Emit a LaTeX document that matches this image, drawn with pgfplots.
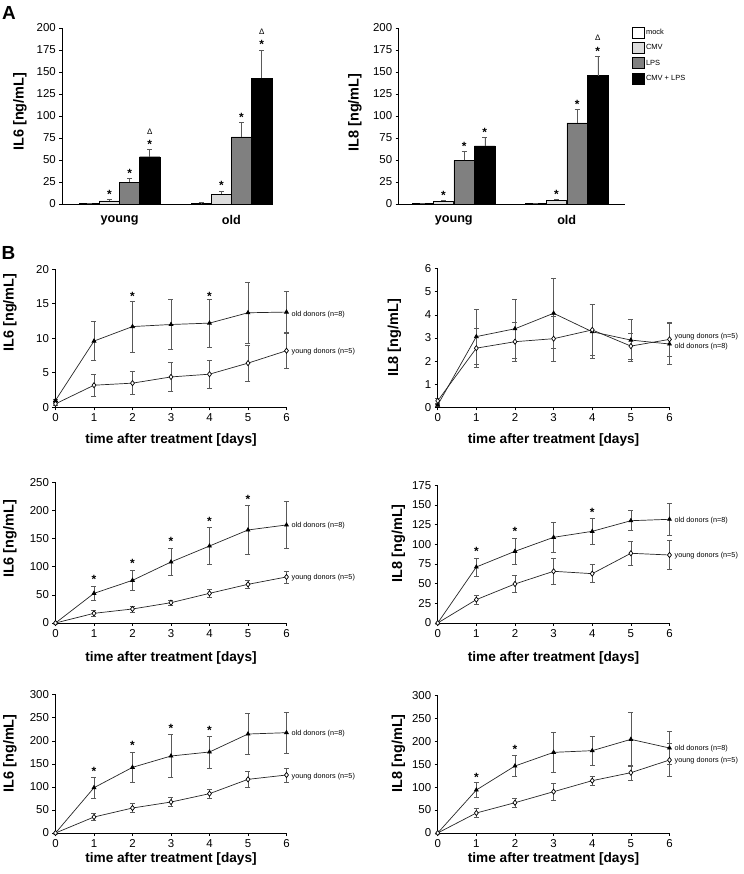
\documentclass[border=0pt]{standalone}
\usepackage{fontspec}
\setmainfont{Liberation Sans}
\usepackage{pgfplots}
\pgfplotsset{compat=1.18}

\definecolor{errgray}{HTML}{5A5A5A}
\definecolor{cmvgray}{HTML}{DCDCDC}
\definecolor{lpsgray}{HTML}{808080}

\pgfplotsset{
  base/.style={scale only axis, clip=false, enlargelimits=false,
    axis x line*=bottom, axis y line*=left,
    axis line style={-, line width=0.6bp, black},
    every tick/.style={black, line width=0.6bp},
    tick align=outside, major tick length=3bp,
    tick label style={font=\fontsize{11.5}{12}\selectfont},
    /pgf/number format/assume math mode=true,
    every axis y label/.style={rotate=90, anchor=center, font=\bfseries\fontsize{14.5}{16}\selectfont},
    every axis x label/.style={anchor=center, font=\bfseries\fontsize{13.7}{15}\selectfont},
    ymin=0},
  ylab/.style 2 args={every axis y label/.append style={at={([xshift=-#1]axis description cs:0,#2)}}},
  xlab/.style={every axis x label/.append style={at={([yshift=-#1]axis description cs:0.5,0)}}},
  barA/.style={base, ybar, height=176bp, ymax=200, ytick={0,25,...,200},
    xtick={0,1}, xticklabels={young,old}, x tick style={draw=none},
    xticklabel style={font=\bfseries\fontsize{12.7}{14}\selectfont, yshift=-5bp}},
  barerr/.style={error bars/.cd, y dir=plus, y explicit,
    error bar style={errgray, line width=0.6bp},
    error mark options={rotate=90, errgray, mark size=2.5bp, line width=0.6bp}},
  lineplot/.style={base, xmin=0, xmax=6, xtick={0,...,6},
    xlabel={time after treatment [days]}},
  old/.style={black!85, line width=0.7bp, mark=triangle*, mark size=2.2bp,
    mark options={solid, fill=black, draw=black},
    error bars/.cd, y dir=both, y explicit,
    error bar style={errgray, line width=0.6bp},
    error mark options={rotate=90, errgray, mark size=2.5bp, line width=0.6bp}},
  young/.style={black!85, line width=0.7bp, mark=diamond*, mark size=2.6bp,
    mark options={solid, fill=white, draw=black},
    error bars/.cd, y dir=both, y explicit,
    error bar style={errgray, line width=0.6bp},
    error mark options={rotate=90, errgray, mark size=2.5bp, line width=0.6bp}},
}
\tikzset{
  star/.style={inner sep=0pt, anchor=center, yshift=-2.5bp, font=\bfseries\fontsize{12}{12}\selectfont},
  delta/.style={inner sep=0pt, anchor=center, font=\fontsize{8}{8}\selectfont},
  donor/.style={inner sep=0pt, anchor=west, xshift=5bp, font=\fontsize{7.3}{8}\selectfont},
}

\begin{document}
\begin{tikzpicture}
\useasboundingbox (0,0) rectangle (744bp,874bp);

\node[font=\bfseries\fontsize{19}{20}\selectfont] at (9bp,861.5bp) {A};
\node[font=\bfseries\fontsize{19}{20}\selectfont] at (8.5bp,621.5bp) {B};

% ---------- A: IL6 ----------
\begin{axis}[barA, at={(62.3bp,670bp)}, anchor=south west, width=210.7bp,
  xmin=-0.511, xmax=1.371, ylabel={IL6 [ng/mL]}, ylab={42.3bp}{0.524}]
\addplot[fill=white, draw=black, bar width=0.18, bar shift=-0.27, barerr] table[x=x,y=y,y error=e] {
x y e
0 0.5 0.2
1 1.0 0.5
};
\addplot[fill=cmvgray, draw=black, bar width=0.18, bar shift=-0.09, barerr] table[x=x,y=y,y error=e] {
x y e
0 3.7 1.1
1 11.3 3.3
};
\addplot[fill=lpsgray, draw=black, bar width=0.18, bar shift=0.09, barerr] table[x=x,y=y,y error=e] {
x y e
0 24.8 4.1
1 76.2 16.1
};
\addplot[fill=black, draw=black, bar width=0.18, bar shift=0.27, barerr] table[x=x,y=y,y error=e] {
x y e
0 53.7 8.2
1 143 31.5
};
\node[star] at (axis cs:-0.09,13.5) {*};
\node[star] at (axis cs:0.09,37.5) {*};
\node[star] at (axis cs:0.27,70.5) {*};
\node[delta] at (axis cs:0.27,82.5) {Δ};
\node[star] at (axis cs:0.91,23.6) {*};
\node[star] at (axis cs:1.09,101.3) {*};
\node[star] at (axis cs:1.27,184.2) {*};
\node[delta] at (axis cs:1.27,195.5) {Δ};
\end{axis}

% ---------- A: IL8 ----------
\begin{axis}[barA, at={(398.7bp,670bp)}, anchor=south west, width=226bp,
  xmin=-0.487, xmax=1.513, ylabel={IL8 [ng/mL]}, ylab={43.7bp}{0.52},
  legend style={at={(1.032,1.0085)}, anchor=north west, draw=none, fill=none,
    font=\fontsize{7.5}{9}\selectfont, row sep=4bp, inner sep=0pt,
    nodes={inner sep=1.5bp}},
  legend cell align=left,
  legend image code/.code={\draw[#1, draw=black] (0bp,-5.5bp) rectangle (12bp,5.5bp);}]
\addplot[fill=white, draw=black, bar width=0.183, bar shift=-0.275, barerr] table[x=x,y=y,y error=e] {
x y e
0 0.8 0.2
1 0.5 0.2
};
\addlegendentry{mock}
\addplot[fill=cmvgray, draw=black, bar width=0.183, bar shift=-0.092, barerr] table[x=x,y=y,y error=e] {
x y e
0 3.0 1.1
1 4.5 1.1
};
\addlegendentry{CMV}
\addplot[fill=lpsgray, draw=black, bar width=0.183, bar shift=0.092, barerr] table[x=x,y=y,y error=e] {
x y e
0 49.5 10.2
1 92.3 15
};
\addlegendentry{LPS}
\addplot[fill=black, draw=black, bar width=0.183, bar shift=0.275, barerr] table[x=x,y=y,y error=e] {
x y e
0 66 9.4
1 146 22
};
\addlegendentry{CMV + LPS}
\node[star] at (axis cs:-0.092,13.1) {*};
\node[star] at (axis cs:0.092,67.9) {*};
\node[star] at (axis cs:0.275,84.4) {*};
\node[star] at (axis cs:0.908,13.9) {*};
\node[star] at (axis cs:1.092,116.3) {*};
\node[star] at (axis cs:1.275,176.4) {*};
\node[delta] at (axis cs:1.275,188.7) {Δ};
\end{axis}

% ---------- B row 1 ----------
\begin{axis}[lineplot, at={(55.5bp,466.7bp)}, anchor=south west, width=231bp, height=138bp,
  ymax=20, ytick={0,5,...,20}, ylabel={IL6 [ng/mL]}, ylab={45.5bp}{0.687}, xlab={32.7bp}]
\addplot[old] table[x=x,y=y,y error=e] {
x y e
0 1.0 0.2
1 9.6 2.8
2 11.7 3.7
3 12.0 3.6
4 12.2 3.5
5 13.7 4.4
6 13.8 3.0
};
\addplot[young] table[x=x,y=y,y error=e] {
x y e
0 0.5 0.2
1 3.2 1.65
2 3.5 1.65
3 4.4 2.1
4 4.8 2.0
5 6.4 2.6
6 8.2 2.5
};
\node[star] at (axis cs:2,16.5) {*};
\node[star] at (axis cs:4,16.5) {*};
\node[donor] at (axis cs:6,13.5) {old donors (n=8)};
\node[donor] at (axis cs:6,8.0) {young donors (n=5)};
\end{axis}

\begin{axis}[lineplot, at={(437.7bp,466.7bp)}, anchor=south west, width=231.8bp, height=138.6bp,
  ymax=6, ytick={0,1,...,6}, ylabel={IL8 [ng/mL]}, ylab={43.2bp}{0.5}, xlab={32.7bp}]
\addplot[old] table[x=x,y=y,y error=e] {
x y e
0 0.1 0.05
1 3.06 1.18
2 3.4 1.27
3 4.07 1.52
4 3.27 1.17
5 2.91 0.9
6 2.74 0.9
};
\addplot[young] table[x=x,y=y,y error=e] {
x y e
0 0.28 0.1
1 2.56 0.85
2 2.84 0.85
3 2.97 0.97
4 3.35 1.1
5 2.65 0.57
6 2.94 0.73
};
\node[donor] at (axis cs:6,3.04) {young donors (n=5)};
\node[donor] at (axis cs:6,2.61) {old donors (n=8)};
\end{axis}

% ---------- B row 2 ----------
\begin{axis}[lineplot, at={(55.5bp,251bp)}, anchor=south west, width=231bp, height=140.7bp,
  ymax=250, ytick={0,50,...,250}, ylabel={IL6 [ng/mL]}, ylab={45.5bp}{0.597}, xlab={35bp}]
\addplot[old] table[x=x,y=y,y error=e] {
x y e
0 0 0
1 52.7 13
2 75.8 17.5
3 108.4 24
4 136.8 33
5 165.3 44
6 174.2 42
};
\addplot[young] table[x=x,y=y,y error=e] {
x y e
0 0 0
1 17.2 5
2 24.9 5.3
3 36.1 4.8
4 52.7 7
5 68.7 7.4
6 81.8 10.6
};
\node[star] at (axis cs:1,82.3) {*};
\node[star] at (axis cs:2,109.6) {*};
\node[star] at (axis cs:3,148.7) {*};
\node[star] at (axis cs:4,184.8) {*};
\node[star] at (axis cs:5,223.3) {*};
\node[donor] at (axis cs:6,172.9) {old donors (n=8)};
\node[donor] at (axis cs:6,80.5) {young donors (n=5)};
\end{axis}

\begin{axis}[lineplot, at={(437.7bp,251bp)}, anchor=south west, width=231.8bp, height=137.7bp,
  ymax=175, ytick={0,25,...,175}, ylabel={IL8 [ng/mL]}, ylab={39.2bp}{0.579}, xlab={35bp}]
\addplot[old] table[x=x,y=y,y error=e] {
x y e
0 0 0
1 71.2 11.5
2 91.1 16
3 108.9 19
4 116.5 16.5
5 130 12.7
6 131.8 20
};
\addplot[young] table[x=x,y=y,y error=e] {
x y e
0 0 0
1 29.7 5.5
2 49.6 11
3 65.7 16
4 62.7 11.5
5 88.6 15
6 86.4 18.6
};
\node[star] at (axis cs:1,94) {*};
\node[star] at (axis cs:2,119) {*};
\node[star] at (axis cs:4,143.6) {*};
\node[donor] at (axis cs:6,130) {old donors (n=8)};
\node[donor] at (axis cs:6,85.2) {young donors (n=5)};
\end{axis}

% ---------- B row 3 ----------
\begin{axis}[lineplot, at={(55.5bp,41bp)}, anchor=south west, width=231bp, height=138.3bp,
  ymax=300, ytick={0,50,...,300}, ylabel={IL6 [ng/mL]}, ylab={45.5bp}{0.576}, xlab={26bp}]
\addplot[old] table[x=x,y=y,y error=e] {
x y e
0 0 0
1 98.3 22
2 142.4 32.5
3 167 47
4 175.7 35
5 214.7 45
6 217.6 44
};
\addplot[young] table[x=x,y=y,y error=e] {
x y e
0 0 0
1 34.7 7
2 54.2 9.5
3 67.2 9.7
4 85.3 10
5 116.4 16.6
6 125.8 15
};
\node[star] at (axis cs:1,139.5) {*};
\node[star] at (axis cs:2,194.5) {*};
\node[star] at (axis cs:3,232) {*};
\node[star] at (axis cs:4,228.5) {*};
\node[donor] at (axis cs:6,216.3) {old donors (n=8)};
\node[donor] at (axis cs:6,122.1) {young donors (n=5)};
\end{axis}

\begin{axis}[lineplot, at={(437.7bp,41bp)}, anchor=south west, width=231.8bp, height=137.7bp,
  ymax=300, ytick={0,50,...,300}, ylabel={IL8 [ng/mL]}, ylab={39.2bp}{0.579}, xlab={26bp}]
\addplot[old] table[x=x,y=y,y error=e] {
x y e
0 0 0
1 93.7 15.7
2 146 23
3 175.7 44
4 179.4 31
5 204 58
6 185.2 36
};
\addplot[young] table[x=x,y=y,y error=e] {
x y e
0 0 0
1 43.6 9.5
2 66 9.8
3 90 18
4 114 9
5 131.4 16
6 159 36
};
\node[star] at (axis cs:1,126.4) {*};
\node[star] at (axis cs:2,187.4) {*};
\node[donor] at (axis cs:6,183.7) {old donors (n=8)};
\node[donor] at (axis cs:6,156.9) {young donors (n=5)};
\end{axis}
\end{tikzpicture}
\end{document}
